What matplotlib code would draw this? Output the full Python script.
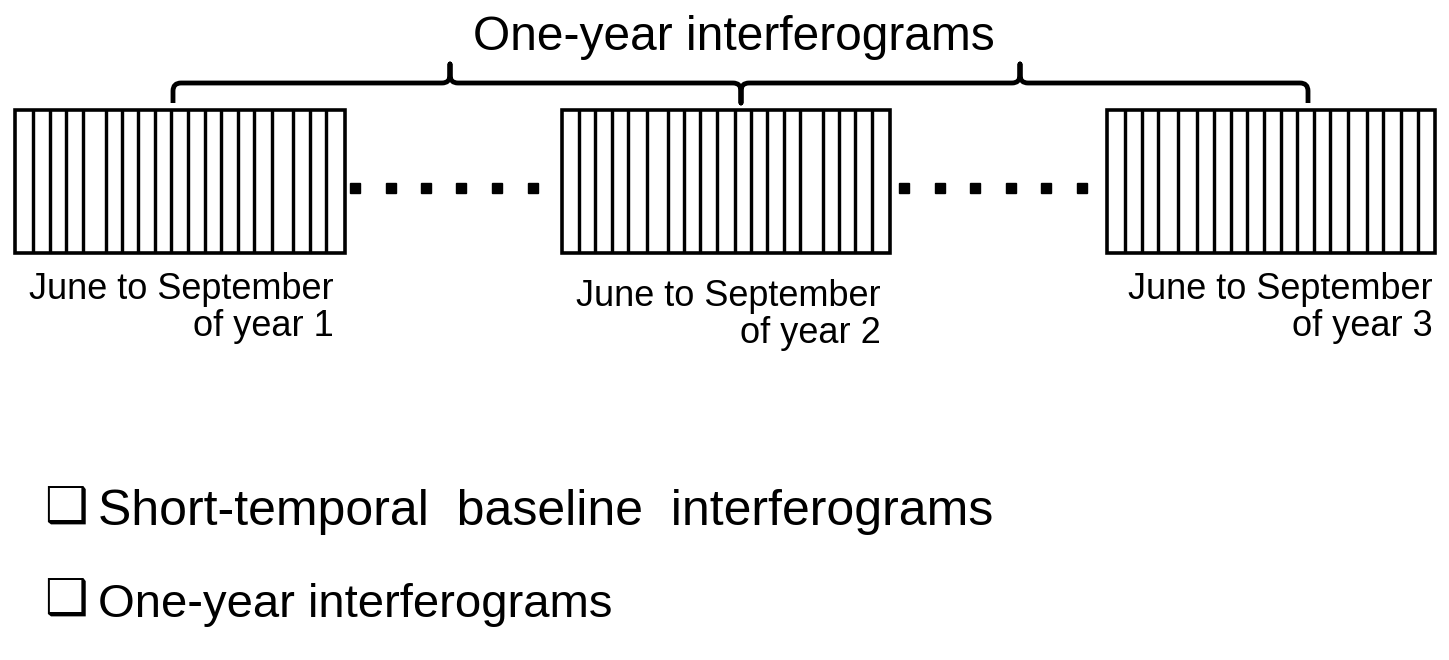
import matplotlib
matplotlib.use("Agg")
import matplotlib.pyplot as plt
from matplotlib.patches import Rectangle, PathPatch
from matplotlib.path import Path

W, H = 1449, 660

# three acquisition blocks (left, right edges), top/bottom
box_x = [(15, 345), (562, 890), (1107, 1435)]
box_top, box_bot = 110, 253
# interior separator lines of each block (one per acquisition)
seps = [
    [33, 50, 66, 83, 106, 122, 138, 155, 171, 188, 205, 221, 238, 254, 272, 293, 310, 326],
    [579, 595, 612, 628, 647, 668, 684, 700, 717, 735, 751, 767, 784, 800, 823, 839, 855, 872],
    [1125, 1142, 1158, 1178, 1197, 1214, 1231, 1247, 1264, 1281, 1297, 1314, 1330, 1348, 1367, 1383, 1401, 1418],
]
dots = [[355, 391, 426, 461, 497, 533], [904, 940, 975, 1011, 1046, 1082]]
dot_y = 188

labels_1 = ["June to September"] * 3
labels_2 = ["of year 1", "of year 2", "of year 3"]
label_right = [334, 881, 1433]
label_y = [299, 306, 299]

title = "One-year interferograms"
bullets = ["Short-temporal  baseline  interferograms", "One-year interferograms"]
bullet_y = [525, 617]
bullet_size = [36, 34]

# brace geometry
br_y, br_end, br_tip = 83, 103, 64
br_left, br_right = 173, 1308
br_up = [450, 1020]
br_down = 741
r = 8

fig = plt.figure(figsize=(W / 100, H / 100), dpi=100)
ax = fig.add_axes([0, 0, 1, 1])
ax.set_xlim(0, W)
ax.set_ylim(H, 0)
ax.axis("off")

px = 72 / 100  # one pixel in points

for (x0, x1), s in zip(box_x, seps):
    ax.add_patch(Rectangle((x0, box_top), x1 - x0, box_bot - box_top,
                           fill=False, ec="black", lw=3.6 * px, joinstyle="miter"))
    ax.vlines(s, box_top, box_bot, color="black", lw=3.4 * px)

for d in dots:
    ax.plot(d, [dot_y] * len(d), ls="none", marker="s", ms=10.5 * px, color="black")

# brace path
verts = [(br_left, br_end), (br_left, br_y + r), (br_left, br_y), (br_left + r, br_y)]
codes = [Path.MOVETO, Path.LINETO, Path.CURVE3, Path.CURVE3]
stops = sorted([(x, "up") for x in br_up] + [(br_down, "down")])
for x, kind in stops:
    if kind == "up":
        sgn, tip = -1, br_tip
    else:
        sgn, tip = 1, br_end
    verts += [(x - r, br_y), (x, br_y), (x, br_y + sgn * r), (x, tip),
              (x, br_y + sgn * r), (x, br_y), (x + r, br_y)]
    codes += [Path.LINETO, Path.CURVE3, Path.CURVE3, Path.LINETO,
              Path.LINETO, Path.CURVE3, Path.CURVE3]
verts += [(br_right - r, br_y), (br_right, br_y), (br_right, br_y + r), (br_right, br_end)]
codes += [Path.LINETO, Path.CURVE3, Path.CURVE3, Path.LINETO]
ax.add_patch(PathPatch(Path(verts, codes), fill=False, ec="black", lw=4.8 * px,
                       capstyle="butt", joinstyle="round"))

fam = ["Liberation Sans", "DejaVu Sans"]
ax.text(734, 50, title, ha="center", va="baseline", fontsize=34.5, family=fam)

for t1, t2, xr, y in zip(labels_1, labels_2, label_right, label_y):
    ax.text(xr, y, t1, ha="right", va="baseline", fontsize=26, family=fam)
    ax.text(xr, y + 37, t2, ha="right", va="baseline", fontsize=26, family=fam)

for t, y, fs in zip(bullets, bullet_y, bullet_size):
    ax.text(44, y - 2, "\u2751", ha="left", va="baseline", fontsize=35, family="DejaVu Sans")
    ax.text(98, y, t, ha="left", va="baseline", fontsize=fs, family=fam)

fig.savefig("out.png", dpi=100)
